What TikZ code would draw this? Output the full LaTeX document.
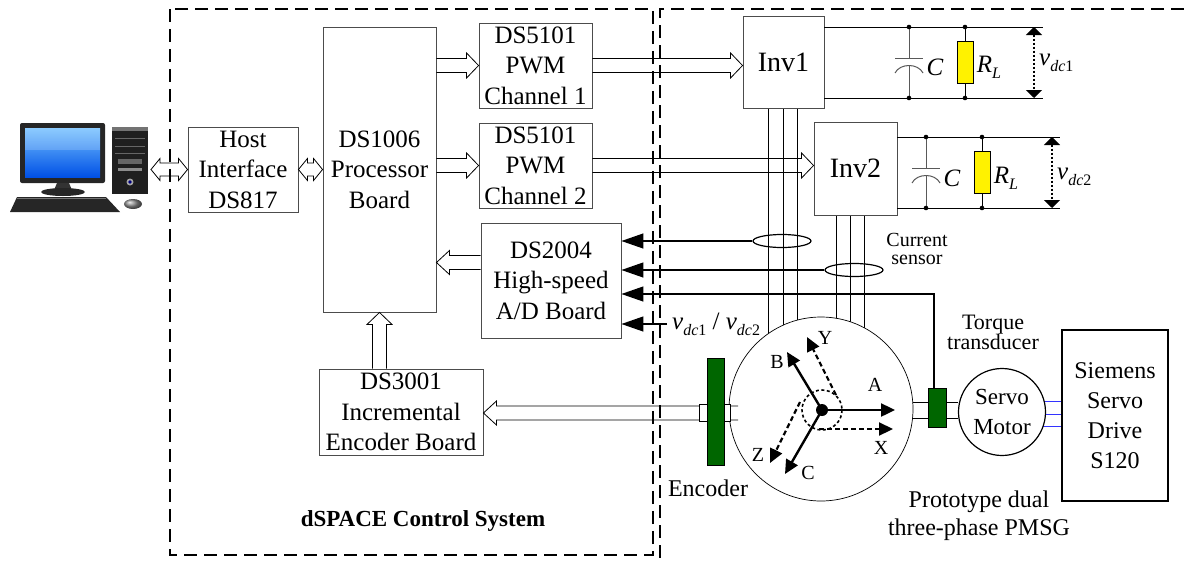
\documentclass[tikz,border=0pt]{standalone}
\usepackage{fontspec}
\setmainfont{Liberation Serif}
\usetikzlibrary{arrows.meta,calc,shapes.geometric,backgrounds}

\newcommand\fsz[2]{\fontsize{#1}{#2}\selectfont}
\newcommand\sub[1]{\raisebox{-0.25em}{\fsz{16}{16}#1}}
\newcommand\vdc[1]{\textit{v}\sub{\textit{dc}#1}}
\newcommand\RL{\textit{R}\sub{\textit{L}}}

% hollow block arrows between two points (open tail)
\newcommand\hollowright[2]{\draw[hollow] let \p1=(#1), \p2=(#2) in
  (\x1,\y1+7pt) -- (\x2-12pt,\y1+7pt) -- (\x2-12pt,\y1+12.5pt) -- (\x2,\y1)
  -- (\x2-12pt,\y1-12.5pt) -- (\x2-12pt,\y1-7pt) -- (\x1,\y1-7pt);}
\newcommand\hollowleft[2]{\draw[hollow] let \p1=(#1), \p2=(#2) in
  (\x1,\y1+7pt) -- (\x2+13pt,\y1+7pt) -- (\x2+13pt,\y1+12pt) -- (\x2,\y1)
  -- (\x2+13pt,\y1-12pt) -- (\x2+13pt,\y1-7pt) -- (\x1,\y1-7pt);}
\newcommand\hollowup[2]{\draw[hollow] let \p1=(#1), \p2=(#2) in
  (\x1-7pt,\y1) -- (\x1-7pt,\y2-12pt) -- (\x1-12.5pt,\y2-12pt) -- (\x1,\y2)
  -- (\x1+12.5pt,\y2-12pt) -- (\x1+7pt,\y2-12pt) -- (\x1+7pt,\y1);}
\newcommand\hollowboth[2]{\draw[hollow] let \p1=(#1), \p2=(#2) in
  (\x1+9pt,\y1+6.5pt) -- (\x2-9pt,\y1+6.5pt) -- (\x2-9pt,\y1+11pt) -- (\x2,\y1)
  -- (\x2-9pt,\y1-11pt) -- (\x2-9pt,\y1-6.5pt) -- (\x1+9pt,\y1-6.5pt)
  -- (\x1+9pt,\y1-11pt) -- (\x1,\y1) -- (\x1+9pt,\y1+11pt) -- cycle;}

% DC-link capacitor: x, bus top, bus bottom, plate y
\newcommand\capacitor[4]{%
  \draw[wire] (#1,#2) -- (#1,#4) (#1-14,#4) -- (#1+14,#4);
  \draw[wire] (#1-14,#4+15) .. controls (#1-9,#4+5) and (#1+9,#4+5) .. (#1+14,#4+15);
  \draw[wire] (#1,#4+8) -- (#1,#3);
  \fill (#1,#2) circle (2.3) (#1,#3) circle (2.3);}
% load resistor: x, bus top, bus bottom, body top, body bottom
\newcommand\resistor[5]{%
  \draw[bus] (#1,#2) -- (#1,#4) (#1,#5) -- (#1,#3);
  \draw[line width=1, fill=yellow] (#1-8,#4) rectangle (#1+8,#5);
  \fill (#1,#2) circle (2.3) (#1,#3) circle (2.3);}

\begin{document}
\begin{tikzpicture}[x=1pt,y=-1pt,
  box/.style={draw=black!70, line width=0.9, fill=white, align=center,
    inner sep=0, font=\fsz{25}{30.5}},
  hollow/.style={draw=black, line width=0.8},
  sig/.style={line width=1.3, -{Triangle[length=22pt,width=15pt]}},
  bus/.style={line width=1},
  wire/.style={line width=1, draw=black!65},
  frame/.style={line width=1.4, dash pattern=on 13pt off 7pt},
  vmeas/.style={line width=1.7, dash pattern=on 2pt off 2pt,
    {Triangle[length=8pt,width=16pt]}-{Triangle[length=8pt,width=16pt]}},
  axis/.style={line width=2.4, -{Triangle[length=14pt,width=13pt]}},
  axisd/.style={line width=2.2, dash pattern=on 5pt off 3pt,
    -{Triangle[length=14pt,width=13pt]}},
  lbl/.style={inner sep=0, font=\fsz{20}{20}},
  txt/.style={inner sep=0, align=center}]
\useasboundingbox (0,0) rectangle (1184,563);

% ---------- system frames ----------
\draw[frame] (170,9) rectangle (653,555);
\draw[frame] (1184,9) -- (660,9) -- (660,563);

% ---------- host computer ----------
\fill[black!85, rounded corners=2] (20,123) rectangle (105,183);
\shade[top color=cyan!55!blue!55, bottom color=blue!65!cyan!90!black]
  (25,128) rectangle (100,177);
\fill[white, opacity=0.18] (25,128) rectangle (100,150);
\fill[black!80] (57,183) -- (69,183) -- (72,190) -- (54,190) -- cycle;
\fill[black!85] (63,192) ellipse (22 and 4);
\fill[black!85] (17,197) -- (106,197) -- (120,212) -- (10,212) -- cycle;
\draw[black!55, line width=0.6] (17,198) -- (106,198);
\fill[black!88] (112,127) rectangle (148,194);
\fill[black!55] (112,127) rectangle (148,131);
\foreach \yy in {138,146,153} \draw[black!60, line width=0.6] (115,\yy) -- (145,\yy);
\fill[black!60] (118,159) rectangle (142,164);
\fill[black!45] (118,168) rectangle (142,171);
\fill[black!35] (130,182) circle (3.5);
\fill[blue!50!black] (130,182) circle (1.8);
\shade[ball color=black!45] (133,204) ellipse (9 and 5);
\coordinate (pcport) at (151,169.5);

% ---------- dSPACE boards ----------
\node[box, minimum width=110, minimum height=85] (host) at (243,169.5)
  {Host\\Interface\\DS817};
\node[box, minimum width=113, minimum height=285] (proc) at (379.5,169.5)
  {DS1006\\Processor\\Board};
\node[box, minimum width=113, minimum height=85] (pwm1) at (535.5,65.5)
  {DS5101\\PWM\\Channel 1};
\node[box, minimum width=113, minimum height=85] (pwm2) at (535.5,165.5)
  {DS5101\\PWM\\Channel 2};
\node[box, minimum width=140, minimum height=115] (adc) at (551,280.5)
  {DS2004\\High-speed\\A/D Board};
\node[box, minimum width=164, minimum height=86] (encb) at (401,412)
  {DS3001\\Incremental\\Encoder Board};
\node[inner sep=0, font=\bfseries\fsz{23}{23}] (dspace) at (423,521)
  {dSPACE Control System};

\hollowboth{pcport}{host.west}
\hollowboth{host.east}{proc.west |- host.east}
\hollowright{proc.east |- pwm1.west}{pwm1.west}
\hollowright{proc.east |- pwm2.west}{pwm2.west}
\coordinate (adcout) at ($(adc.west)+(0,-18)$);
\hollowleft{adcout}{proc.east |- adcout}
\hollowup{proc.south |- encb.north}{proc.south}

% ---------- inverters and DC links ----------
\node[box, font=\fsz{28}{28}, minimum width=81, minimum height=92] (inv1) at (783.5,62) {Inv1};
\node[box, font=\fsz{28}{28}, minimum width=83, minimum height=93] (inv2) at (855.5,168.5) {Inv2};
\hollowright{pwm1.east}{inv1.west |- pwm1.east}
\hollowright{pwm2.east}{inv2.west |- pwm2.east}

\coordinate (b1t) at (1043,27);  \coordinate (b1b) at (1043,98);
\coordinate (b2t) at (1060,137); \coordinate (b2b) at (1060,208);
\draw[bus] (inv1.east |- b1t) -- (b1t) (inv1.east |- b1b) -- (b1b);
\draw[bus] (inv2.east |- b2t) -- (b2t) (inv2.east |- b2b) -- (b2b);
\capacitor{909}{27}{98}{58}
\resistor{965}{27}{98}{41}{83}
\capacitor{926}{137}{208}{168}
\resistor{982}{137}{208}{151}{193}
\draw[vmeas] (1034,27) -- (1034,98);
\draw[vmeas] (1052,137) -- (1052,208);
\node[inner sep=0, font=\itshape\fsz{25}{25}] (c1) at (935,67) {C};
\node[inner sep=0, font=\fsz{25}{25}] (r1) at (989,67) {\RL};
\node[inner sep=0, font=\fsz{25}{25}, anchor=west] (v1) at (1039,63) {\vdc{1}};
\node[inner sep=0, font=\itshape\fsz{25}{25}] (c2) at (952,178) {C};
\node[inner sep=0, font=\fsz{25}{25}] (r2) at (1006,178) {\RL};
\node[inner sep=0, font=\fsz{25}{25}, anchor=west] (v2) at (1057,177) {\vdc{2}};

% ---------- machine set ----------
\node[draw, circle, line width=0.7, fill=white, minimum size=184, inner sep=0] (motor) at (821,409) {};
% phase leads, hidden behind the machine body
\begin{scope}[on background layer]
  \foreach \dx in {-15.5,-0.5,13.5}
    \draw[bus] ([xshift=\dx pt]inv1.south) -- ([xshift=\dx pt]inv1.south |- motor.center);
  \foreach \dx in {-19.5,-5.5,8.5}
    \draw[bus] ([xshift=\dx pt]inv2.south) -- ([xshift=\dx pt]inv2.south |- motor.center);
\end{scope}

% current sensors
\node[draw, ellipse, line width=1.2, minimum width=58, minimum height=13, inner sep=0] (cs1) at (782,241) {};
\node[draw, ellipse, line width=1.2, minimum width=58, minimum height=13, inner sep=0] (cs2) at (854,270) {};
\node[txt, font=\fsz{20}{18}] (cslbl) at (917,249) {Current\\sensor};

% stator axes
\coordinate (o) at (822,410);
\draw[line width=1.6, dash pattern=on 3pt off 2.5pt] (o) circle (20);
\draw[axis] (o) -- (895,410);
\draw[axis] (o) -- (787,352);
\draw[axis] (o) -- (785,474);
\draw[axisd] (819,429) -- (893,429);
\draw[axisd] (836,395) -- (807,337);
\draw[axisd] (800,402) -- (770,463);
\fill (o) circle (6);
\node[lbl] (la) at (875,385) {A};
\node[lbl] (lb) at (777,362) {B};
\node[lbl] (lc) at (808,473) {C};
\node[lbl] (lx) at (881,448) {X};
\node[lbl] (ly) at (825,338) {Y};
\node[lbl] (lz) at (758,455) {Z};
\node[txt, font=\fsz{24}{28}] (pmsg) at (979,516) {Prototype dual\\three-phase PMSG};

% encoder and shaft
\coordinate (shaftL) at (738,413);
\hollowleft{shaftL}{encb.east |- shaftL}
\draw[line width=0.9, fill=white] (699,404) rectangle (730,421);
\node[draw, line width=1, fill=green!40!black, minimum width=17, minimum height=107, inner sep=0] (enc) at (715.5,411.5) {};
\node[txt, font=\fsz{24}{24}] (enclbl) at (708,488) {Encoder};

% load machine and drive
\node[draw, circle, line width=1.2, fill=white, minimum size=87, inner sep=0,
  align=center, font=\fsz{23}{30}] (servo) at (1002,412) {Servo\\Motor};
\node[box, draw=black, line width=1.2, minimum width=106, minimum height=171,
  font=\fsz{24}{30}] (drive) at (1115,415.5) {Siemens\\Servo\\Drive\\S120};
\begin{scope}[on background layer]
  \foreach \yy in {401,414,426} \draw[blue!80, line width=1] (1035,\yy) -- (drive.west |- 0,\yy);
\end{scope}
\draw[line width=1] (motor.east |- 0,402) -- (servo.west |- 0,402);
\draw[line width=1] (motor.east |- 0,418) -- (servo.west |- 0,418);
\node[draw, line width=1, fill=green!40!black, minimum width=18, minimum height=39, inner sep=0] (tq) at (937,407.5) {};
\node[txt, font=\fsz{22}{20}] (tqlbl) at (993,332) {Torque\\transducer};

% ---------- measured signals to the A/D board ----------
\draw[sig] (cs1.west) -- (adc.east |- cs1.west);
\draw[sig] (cs2.west) -- (adc.east |- cs2.west);
\coordinate (tqtop) at ($(tq.north)+(-3,0)$);
\coordinate (t3) at (tqtop |- 0,294);
\draw[sig] (tqtop) -- (t3) -- (adc.east |- t3);
\coordinate (vd) at (667,324);
\draw[sig] (vd) -- (adc.east |- vd);
\node[inner sep=0, anchor=west, font=\fsz{25}{25}] (vdlbl) at (672,324) {\vdc{1} / \vdc{2}};
\end{tikzpicture}
\end{document}
